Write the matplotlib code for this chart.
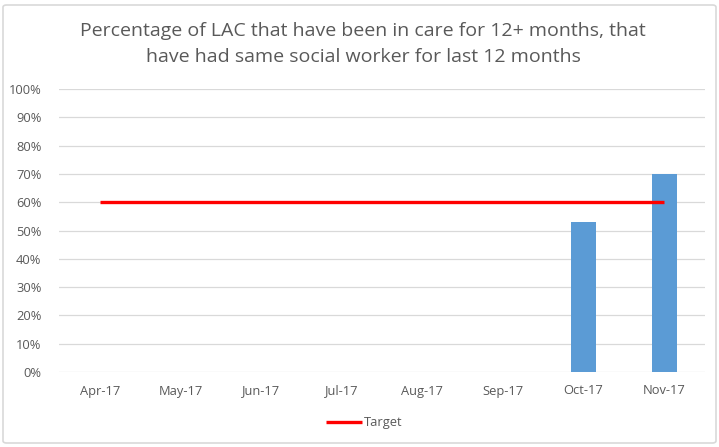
import matplotlib.pyplot as plt
from matplotlib.patches import FancyBboxPatch
from matplotlib.ticker import PercentFormatter

plt.rcParams['font.family'] = ['Open Sans', 'DejaVu Sans']

months = ["Apr-17", "May-17", "Jun-17", "Jul-17", "Aug-17", "Sep-17", "Oct-17", "Nov-17"]
actual = [None, None, None, None, None, None, 53, 70]
target = [60, 60, 60, 60, 60, 60, 60, 60]

grey = "#595959"
x = list(range(len(months)))

fig = plt.figure(figsize=(7.19, 4.47), dpi=100)
ax = fig.add_axes([59.5 / 719, 75 / 447, 645 / 719, 283 / 447])

# chart border
fig.patches.append(FancyBboxPatch((3 / 719, 4 / 447), 713 / 719, 438 / 447,
                                  boxstyle="round,pad=0,rounding_size=0.005",
                                  transform=fig.transFigure, fill=False,
                                  edgecolor="#d9d9d9", linewidth=1.2))

bx = [i for i, v in zip(x, actual) if v is not None]
bv = [v for v in actual if v is not None]
ax.bar(bx, bv, width=0.31, color="#5b9bd5", zorder=2)
ax.plot(x, target, color="#ff0000", linewidth=2.4, label="Target", zorder=3,
        solid_capstyle="butt")

ax.set_xlim(-0.5, len(months) - 0.5)
ax.set_ylim(0, 100)
ax.set_yticks(range(0, 101, 10))
ax.yaxis.set_major_formatter(PercentFormatter(decimals=0))
ax.set_xticks(x)
ax.set_xticklabels(months)
ax.tick_params(length=0, colors=grey, labelsize=9.3)
ax.tick_params(axis="x", pad=9)
ax.tick_params(axis="y", pad=13)
ax.grid(axis="y", color="#d9d9d9", linewidth=0.9, zorder=0)
for s in ax.spines.values():
    s.set_visible(False)

fig.text(0.505, 1 - 44 / 447, "Percentage of LAC that have been in care for 12+ months, that\n"
         "have had same social worker for last 12 months",
         ha="center", va="center", fontsize=14, color=grey, linespacing=1.55)

ax.legend(loc="center", bbox_to_anchor=(0.473, -0.18), frameon=False, fontsize=9.3,
          labelcolor=grey, handlelength=2.8, handletextpad=0.15)

fig.savefig("out.png", dpi=100)
